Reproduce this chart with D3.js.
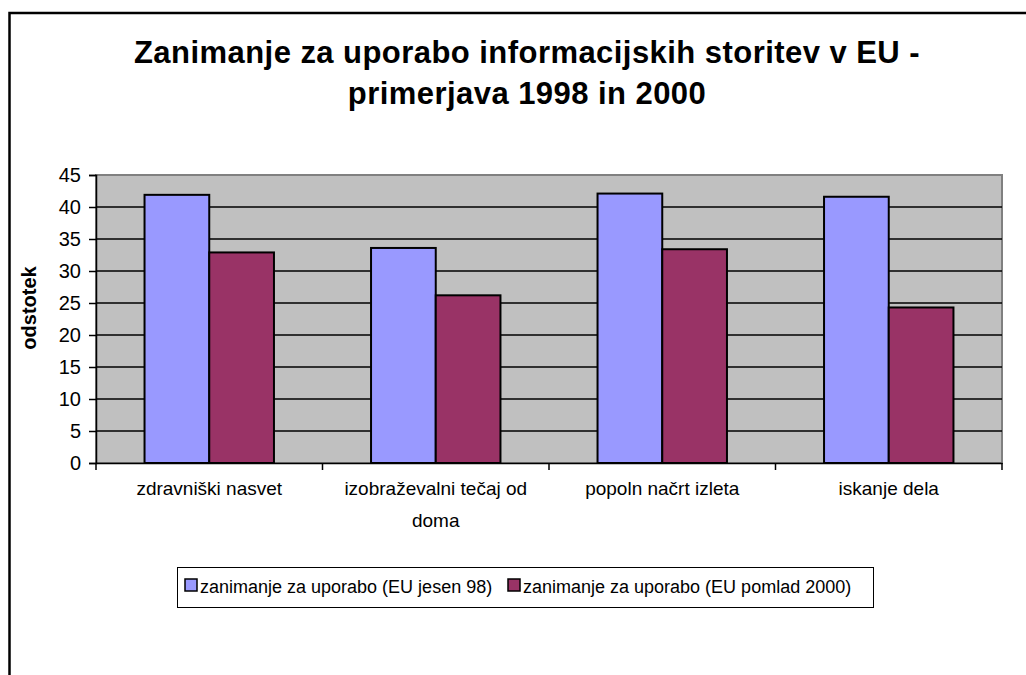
<!DOCTYPE html>
<html>
<head>
<meta charset="utf-8">
<script src="https://cdn.jsdelivr.net/npm/d3@7"></script>
<style>
  body { margin: 0; background: #fff; }
  svg { display: block; font-family: Arial, "Liberation Sans", sans-serif; }
</style>
</head>
<body>
<div id="chart-area"></div>
<script>
// data
var categories = ["zdravniški nasvet", "izobraževalni tečaj od doma", "popoln načrt izleta", "iskanje dela"]
var seriesNames = ["zanimanje za uporabo (EU jesen 98)", "zanimanje za uporabo (EU pomlad 2000)"]
var autumn98 = [41.9, 33.6, 42.1, 41.6]
var spring2000 = [32.9, 26.2, 33.4, 24.3]
var yTicks = [0, 5, 10, 15, 20, 25, 30, 35, 40, 45]
var titleLines = ["Zanimanje za uporabo informacijskih storitev v EU -", "primerjava 1998 in 2000"]
var yTitle = "odstotek"

var width = 1026, height = 675
var colors = ["#9999ff", "#993366"]
var plot = {left: 96, right: 1002, top: 175, bottom: 463}

var svg = d3.select("#chart-area").append("svg")
    .attr("width", width)
    .attr("height", height)

// outer chart frame (continues past the window on the right and bottom)
svg.append("rect")
    .attr("x", 9.5).attr("y", 13)
    .attr("width", 1100).attr("height", 800)
    .attr("fill", "#fff")
    .attr("stroke", "#000")
    .attr("stroke-width", 2.5)

// title
svg.append("g").selectAll("text")
    .data(titleLines)
    .enter().append("text")
    .attr("x", 527)
    .attr("y", function(d, i) { return 63 + i * 41 })
    .attr("text-anchor", "middle")
    .attr("font-size", 31)
    .attr("letter-spacing", 0.45)
    .attr("font-weight", "bold")
    .text(function(d) { return d })

var x = d3.scaleBand()
    .domain(categories)
    .range([plot.left, plot.right])
    .paddingInner(0)

var y = d3.scaleLinear()
    .domain([0, 45])
    .range([plot.bottom, plot.top])

// plot background
svg.append("rect")
    .attr("x", plot.left).attr("y", plot.top)
    .attr("width", plot.right - plot.left)
    .attr("height", plot.bottom - plot.top)
    .attr("fill", "#c0c0c0")
    .attr("stroke", "#808080")
    .attr("stroke-width", 2)

// grid lines
svg.append("g").selectAll("line")
    .data(yTicks.filter(function(d) { return d > 0 && d < 45 }))
    .enter().append("line")
    .attr("x1", plot.left).attr("x2", plot.right)
    .attr("y1", function(d) { return y(d) })
    .attr("y2", function(d) { return y(d) })
    .attr("stroke", "#000")
    .attr("stroke-width", 1.5)

// bars
var bw = x.bandwidth() / 3.5
var seriesData = [autumn98, spring2000]
seriesData.forEach(function(vals, s) {
    svg.append("g").selectAll("rect")
        .data(vals)
        .enter().append("rect")
        .attr("x", function(d, i) { return x(categories[i]) + bw * 0.75 + s * bw })
        .attr("y", function(d) { return y(d) })
        .attr("width", bw)
        .attr("height", function(d) { return y(0) - y(d) })
        .attr("fill", colors[s])
        .attr("stroke", "#000")
        .attr("stroke-width", 2)
})

// y axis
var yAxis = svg.append("g")
    .attr("transform", "translate(" + plot.left + ",0)")
    .call(d3.axisLeft(y).tickValues(yTicks).tickSize(7).tickPadding(8))
yAxis.selectAll("text").attr("font-size", 20).attr("fill", "#000").attr("font-family", "Arial, 'Liberation Sans', sans-serif")
yAxis.selectAll("line, path").attr("stroke", "#000").attr("stroke-width", 1.5)

// x axis
var xAxis = svg.append("g")
    .attr("transform", "translate(0," + plot.bottom + ")")
xAxis.call(d3.axisBottom(x).tickSize(0).tickFormat(""))
xAxis.select("path").attr("stroke", "#000").attr("stroke-width", 1.5)
xAxis.selectAll("line.sep")
    .data(categories.concat(["end"]))
    .enter().append("line")
    .attr("class", "sep")
    .attr("x1", function(d, i) { return plot.left + i * x.bandwidth() })
    .attr("x2", function(d, i) { return plot.left + i * x.bandwidth() })
    .attr("y1", 0).attr("y2", 7)
    .attr("stroke", "#000").attr("stroke-width", 1.5)

// category labels, wrapped to the band width
var labels = svg.append("g").selectAll("text")
    .data(categories)
    .enter().append("text")
    .attr("text-anchor", "middle")
    .attr("font-size", 19)
    .attr("y", 495)
labels.each(function(d) {
    var el = d3.select(this)
    var cx = x(d) + x.bandwidth() / 2
    var words = d.split(" ")
    var line = []
    var ts = el.append("tspan").attr("x", cx)
    words.forEach(function(w) {
        line.push(w)
        ts.text(line.join(" "))
        if (ts.node().getComputedTextLength() > x.bandwidth() - 20 && line.length > 1) {
            line.pop()
            ts.text(line.join(" "))
            line = [w]
            ts = el.append("tspan").attr("x", cx).attr("dy", 32).text(w)
        }
    })
})

// y axis title
svg.append("text")
    .attr("transform", "translate(36,308) rotate(-90)")
    .attr("text-anchor", "middle")
    .attr("font-size", 20)
    .attr("font-weight", "bold")
    .text(yTitle)

// legend
svg.append("rect")
    .attr("x", 177.5).attr("y", 567.5)
    .attr("width", 696).attr("height", 40)
    .attr("fill", "#fff")
    .attr("stroke", "#000")
    .attr("stroke-width", 1)
var legend = svg.append("g")
var legendX = [185, 508]
seriesNames.forEach(function(name, i) {
    legend.append("rect")
        .attr("x", legendX[i]).attr("y", 579)
        .attr("width", 12).attr("height", 12)
        .attr("fill", colors[i])
        .attr("stroke", "#000")
        .attr("stroke-width", 1.5)
    legend.append("text")
        .attr("x", legendX[i] + 15).attr("y", 593)
        .attr("font-size", 18)
        .text(name)
})
</script>
</body>
</html>
